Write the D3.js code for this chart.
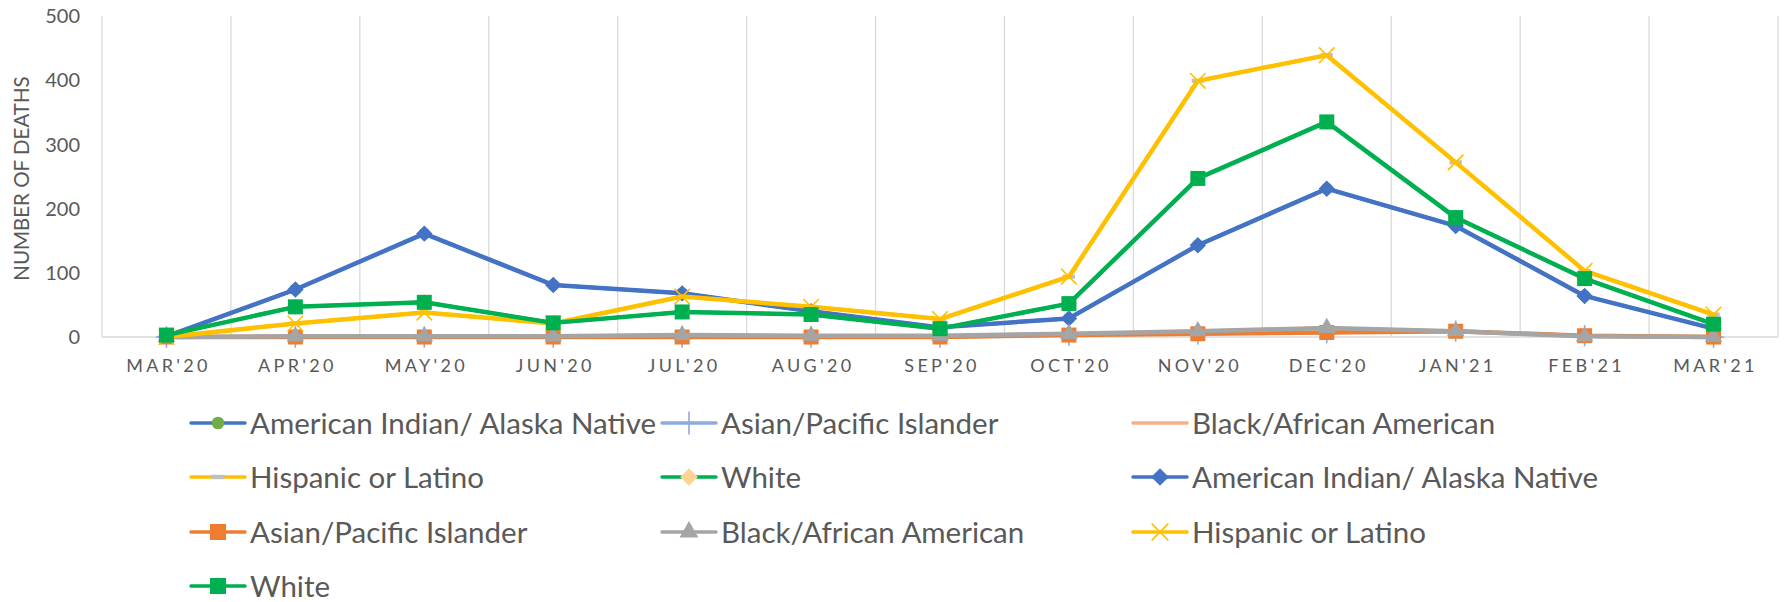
<!DOCTYPE html>
<html>
<head>
<meta charset="utf-8">
<script src="https://cdn.jsdelivr.net/npm/d3@7"></script>
<style>
  html, body { margin: 0; padding: 0; background: #ffffff; }
  svg { display: block; }
  text { font-family: Lato, "Open Sans", sans-serif; fill: #595959; }
</style>
</head>
<body>
<svg id="chart" width="1784" height="602"></svg>
<script>
// ---------------- data ----------------
const months = ["MAR'20","APR'20","MAY'20","JUN'20","JUL'20","AUG'20","SEP'20","OCT'20","NOV'20","DEC'20","JAN'21","FEB'21","MAR'21"];
const aian     = [1, 74, 161, 81, 68, 40, 15, 29, 143, 231, 173, 64, 13];
const api      = [0, 0, 0, 0, 0, 0, 0, 3, 5, 7, 9, 2, 0];
const black    = [0, 1, 1, 1, 3, 2, 2, 5, 9, 14, 9, 1, 0];
const hispanic = [0, 21, 38, 21, 63, 47, 28, 94, 399, 439, 272, 103, 35];
const white    = [3, 47, 54, 22, 39, 35, 13, 52, 247, 335, 186, 91, 20];
const yTicks   = [0, 100, 200, 300, 400, 500];
const yTitle   = "NUMBER OF DEATHS";

const seriesNames  = ["American Indian/ Alaska Native","Asian/Pacific Islander","Black/African American","Hispanic or Latino","White",
                      "American Indian/ Alaska Native","Asian/Pacific Islander","Black/African American","Hispanic or Latino","White"];
const seriesValues = [aian, api, black, hispanic, white, aian, api, black, hispanic, white];
const lineColors   = ["#4472C4","#8FAADC","#F4B183","#FFC000","#00B050","#4472C4","#ED7D31","#A5A5A5","#FFC000","#00B050"];
const markerTypes  = ["circle","plus","none","dash","diamond","diamond","square","triangle","x","square"];
const markerColors = ["#70AD47","#8FAADC","none","#BFBFBF","#FFD394","#4472C4","#ED7D31","#A5A5A5","#FFC000","#00B050"];

// ---------------- layout ----------------
const svg = d3.select("#chart");
const plot = { left: 102, right: 1778, top: 16, bottom: 337 };

const x = d3.scaleBand().domain(months).range([plot.left, plot.right]).padding(0);
const y = d3.scaleLinear().domain([0, 500]).range([plot.bottom, plot.top]);
const cx = m => x(m) + x.bandwidth() / 2;

// vertical gridlines at band boundaries
const bounds = months.map(m => x(m)).concat([plot.right]);
svg.append("g").selectAll("line").data(bounds).join("line")
  .attr("x1", d => d).attr("x2", d => d)
  .attr("y1", y(500)).attr("y2", y(0))
  .attr("stroke", "#D9D9D9").attr("stroke-width", 1.3);

// baseline
svg.append("line")
  .attr("x1", plot.left).attr("x2", plot.right)
  .attr("y1", y(0)).attr("y2", y(0))
  .attr("stroke", "#D9D9D9").attr("stroke-width", 1.5);

// y tick labels
svg.append("g").selectAll("text").data(yTicks).join("text")
  .attr("x", 80).attr("y", d => y(d))
  .attr("dy", "0.36em")
  .attr("text-anchor", "end")
  .style("font-size", "20px")
  .text(d => d);

// y title
svg.append("text")
  .attr("transform", `translate(29,${(y(0) + y(500)) / 2 + 2}) rotate(-90)`)
  .attr("text-anchor", "middle")
  .style("font-size", "20.5px")
  .text(yTitle);

// x labels
svg.append("g").selectAll("text").data(months).join("text")
  .attr("x", d => cx(d) + 2)
  .attr("y", 372)
  .attr("text-anchor", "middle")
  .style("font-size", "18px")
  .style("letter-spacing", "3.3px")
  .text(d => d);

// ---------------- markers ----------------
const dashType = { draw(ctx, size) { const w = Math.sqrt(size); ctx.rect(-w / 2, -w / 6, w, w / 3); } };
function markerPath(type, size) {
  switch (type) {
    case "circle":  return d3.symbol(d3.symbolCircle, size)();
    case "plus":    return d3.symbol(d3.symbolPlus, size)();
    case "square":  return d3.symbol(d3.symbolSquare, size)();
    case "diamond": return d3.symbol(d3.symbolSquare, size)();
    case "triangle":return d3.symbol(d3.symbolTriangle, size)();
    case "x":       return d3.symbol(d3.symbolX, size)();
    case "dash":    return d3.symbol(dashType, size)();
  }
  return null;
}
const markerSize = { circle: 110, plus: 150, square: 225, diamond: 135, triangle: 135, x: 160, dash: 150 };
const strokeMarker = t => t === "x" || t === "plus";

function drawMarker(g, type, color, px, py, scale) {
  if (type === "none") return;
  const p = g.append("path")
    .attr("d", markerPath(type, markerSize[type] * (scale || 1)))
    .attr("transform", `translate(${px},${py})` + (type === "diamond" ? " rotate(45)" : ""));
  if (strokeMarker(type)) {
    p.attr("fill", "none").attr("stroke", color).attr("stroke-width", 1.6);
  } else {
    p.attr("fill", color);
  }
}

// ---------------- series ----------------
const line = d3.line().x((d, i) => cx(months[i])).y(d => y(d));
const seriesG = svg.append("g");
seriesValues.forEach((vals, s) => {
  const g = seriesG.append("g");
  g.append("path")
    .attr("d", line(vals))
    .attr("fill", "none")
    .attr("stroke", lineColors[s])
    .attr("stroke-width", s < 5 ? 3.5 : 4.5)
    .attr("stroke-linejoin", "round")
    .attr("stroke-linecap", "round");
  vals.forEach((v, i) => drawMarker(g, markerTypes[s], markerColors[s], cx(months[i]), y(v), 1));
});

// ---------------- legend ----------------
const legCols = [191, 662, 1133];
const legRows = [423, 477, 532, 586];
const legG = svg.append("g");
seriesNames.forEach((name, s) => {
  const col = s % 3, row = Math.floor(s / 3);
  const lx = legCols[col], ly = legRows[row];
  const g = legG.append("g");
  g.append("line")
    .attr("x1", lx).attr("x2", lx + 54)
    .attr("y1", ly).attr("y2", ly)
    .attr("stroke", lineColors[s]).attr("stroke-width", 3.5)
    .attr("stroke-linecap", "round");
  drawMarker(g, markerTypes[s], markerColors[s], lx + 27, ly, 1.15);
  g.append("text")
    .attr("x", lx + 59).attr("y", ly)
    .attr("dy", "0.36em")
    .style("font-size", "29.5px")
    .text(name);
});
</script>
</body>
</html>
